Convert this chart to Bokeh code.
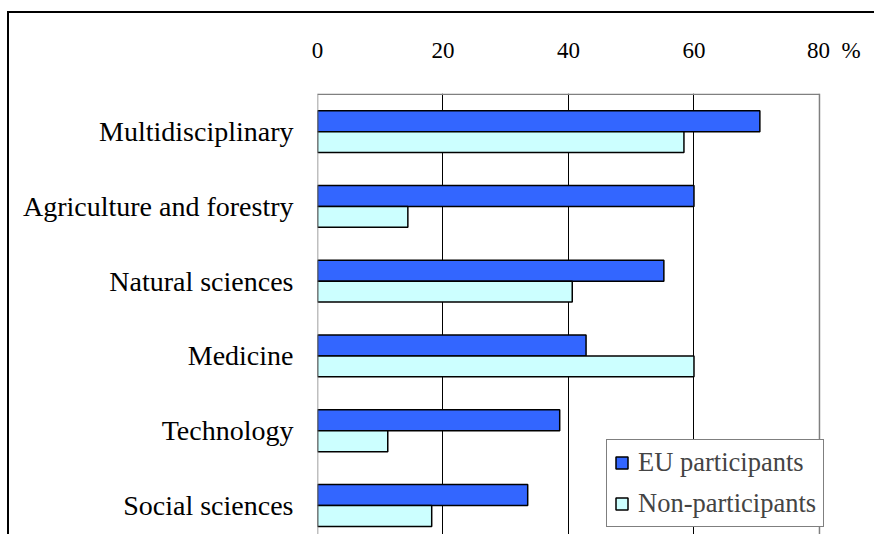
from bokeh.plotting import figure
from bokeh.models import (Range1d, FixedTicker, Span, Legend, LegendItem,
                          ColumnDataSource)
from bokeh.transform import dodge
from bokeh.embed import file_html
from bokeh.resources import INLINE

# Share of projects by field (%), top to bottom
categories = ["Multidisciplinary", "Agriculture and forestry", "Natural sciences",
              "Medicine", "Technology", "Social sciences"]
eu_participants = [70.5, 60.0, 55.2, 42.8, 38.6, 33.5]
non_participants = [58.4, 14.4, 40.6, 60.0, 11.2, 18.2]
x_ticks = [0, 20, 40, 60, 80]
unit = "%"

FONT = "Liberation Serif"
EU_COLOR = "#3366FF"
NON_COLOR = "#CCFFFF"
EDGE_COLOR = "#808080"
NBSP = "\u00a0"

positions = list(range(len(categories)))
src = ColumnDataSource(dict(pos=positions, eu=eu_participants, non=non_participants))

top_edge = -0.5
# frame runs a little past the last tick so the legend box can overhang the plot area
p = figure(width=867, height=523,
           x_range=Range1d(x_ticks[0], x_ticks[-1] + 0.96),
           y_range=Range1d(5.415, top_edge - 0.01),
           x_axis_location="above",
           output_backend="svg", toolbar_location=None,
           min_border_left=308, min_border_right=51,
           min_border_top=80, min_border_bottom=0)

# outer chart border (left/top edges; the rest runs off the page)
p.styles = {"margin-left": "7px", "margin-top": "11px",
            "border-left": "2px solid black", "border-top": "2px solid black"}

bar_h = 0.28
r_eu = p.hbar(y=dodge("pos", -bar_h / 2), left=0, right="eu", height=bar_h,
              fill_color=EU_COLOR, line_color="black", line_width=1.5, source=src)
r_non = p.hbar(y=dodge("pos", bar_h / 2), left=0, right="non", height=bar_h,
               fill_color=NON_COLOR, line_color="black", line_width=1.5, source=src)

# top value axis; the unit sits after the last tick label
xa = p.xaxis[0]
xa.ticker = FixedTicker(ticks=x_ticks)
last = x_ticks[-1]
xa.major_label_overrides = {last: NBSP * 5 + str(last) + NBSP * 2 + unit}
xa.axis_line_color = None
xa.major_tick_line_color = None
xa.minor_tick_line_color = None
xa.major_label_standoff = 25
xa.major_label_text_font = FONT
xa.major_label_text_font_size = "23px"
xa.major_label_text_color = "black"

# category axis
ya = p.yaxis[0]
ya.ticker = FixedTicker(ticks=positions)
ya.major_label_overrides = {i: c for i, c in zip(positions, categories)}
ya.axis_line_color = None
ya.major_tick_line_color = None
ya.minor_tick_line_color = None
ya.major_label_standoff = 18
ya.major_label_text_font = FONT
ya.major_label_text_font_size = "28px"
ya.major_label_text_color = "black"

# grid
p.ygrid.visible = False
p.xgrid.ticker = FixedTicker(ticks=x_ticks[1:-1])
p.xgrid.grid_line_color = "black"
p.xgrid.grid_line_width = 1
p.outline_line_color = None

# plot area edges
for loc in (x_ticks[0], x_ticks[-1]):
    p.add_layout(Span(location=loc, dimension="height", line_color=EDGE_COLOR, line_width=1.5))
p.segment(x0=[x_ticks[0]], x1=[x_ticks[-1]], y0=[top_edge], y1=[top_edge],
          line_color=EDGE_COLOR, line_width=1.5)

legend = Legend(items=[LegendItem(label="EU participants", renderers=[r_eu]),
                       LegendItem(label="Non-participants", renderers=[r_non])],
                location=(289, 9), orientation="vertical",
                label_text_font=FONT, label_text_font_size="26.5px",
                glyph_width=15, glyph_height=15, label_standoff=9,
                padding=7, spacing=10, margin=0,
                border_line_color="black", border_line_width=1,
                background_fill_color="white", background_fill_alpha=1)
p.add_layout(legend)

p.background_fill_color = "white"
p.border_fill_color = "white"

open("out.html", "w").write(file_html(p, INLINE))
